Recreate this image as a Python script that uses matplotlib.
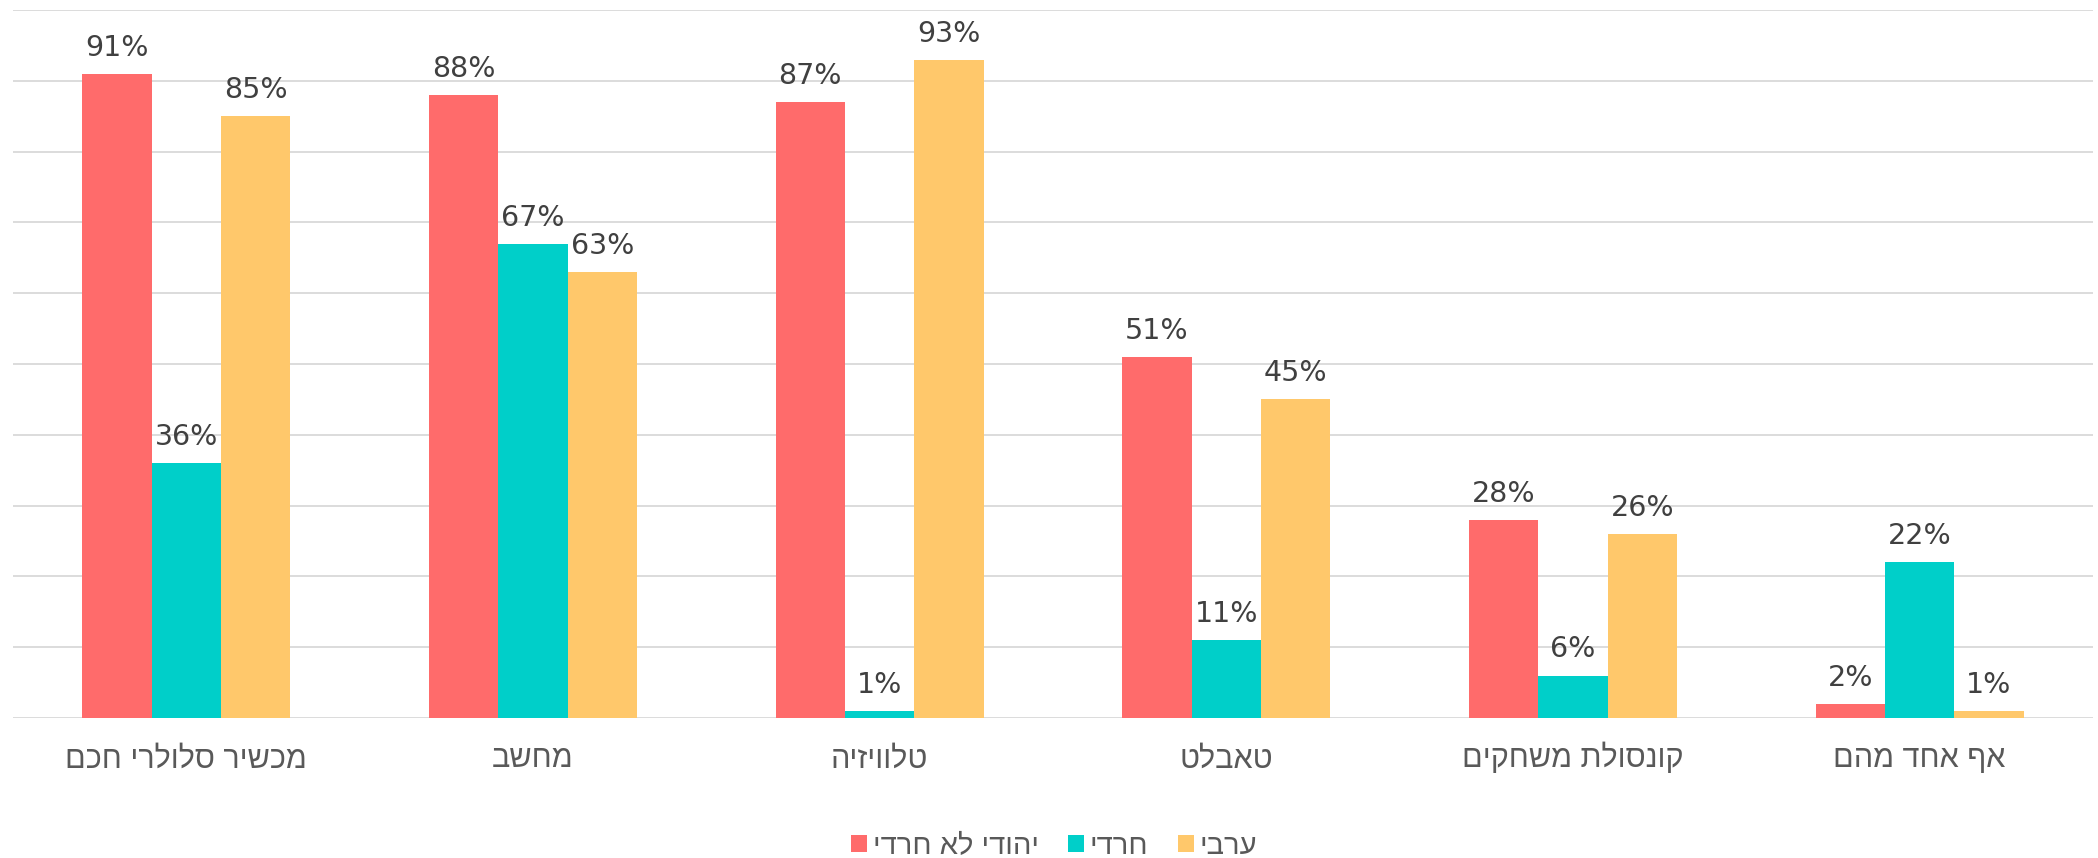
import matplotlib
matplotlib.use("Agg")
import matplotlib.pyplot as plt
from matplotlib.patches import Patch
import numpy as np

categories = ['מכשיר סלולרי חכם', 'מחשב', 'טלוויזיה', 'טאבלט', 'קונסולת משחקים', 'אף אחד מהם']
series_names = ['יהודי לא חרדי', 'חרדי', 'ערבי']
jewish_non_haredi = [91, 88, 87, 51, 28, 2]
haredi = [36, 67, 1, 11, 6, 22]
arab = [85, 63, 93, 45, 26, 1]
colors = ['#FF6B6B', '#00CFC9', '#FFC86B']

HEB = ['Liberation Sans', 'DejaVu Sans']


def vis(s):
    # matplotlib has no bidi support: reverse Hebrew to visual order
    return s[::-1]


W, H = 2098, 858
fig = plt.figure(figsize=(W / 100, H / 100), dpi=100)
ax = fig.add_axes([13 / W, 1 - 718 / H, (2093 - 13) / W, (718 - 10) / H])

x = np.arange(len(categories))
bw = 0.2
series = [jewish_non_haredi, haredi, arab]
for k, (vals, c) in enumerate(zip(series, colors)):
    pos = x + (k - 1) * bw
    ax.bar(pos, vals, width=bw, color=c, zorder=3, linewidth=0)
    for px, v in zip(pos, vals):
        ax.annotate(f'{v}%', xy=(px, v), xytext=(0, 13), textcoords='offset points',
                    ha='center', va='baseline', fontsize=20.5, color='#404040',
                    family='DejaVu Sans', zorder=4)

ax.set_xlim(-0.5, len(categories) - 0.5)
ax.set_ylim(0, 100)
ax.set_yticks(np.arange(0, 101, 10))
ax.set_yticklabels([])
ax.set_xticks([])
ax.tick_params(length=0)
ax.yaxis.grid(True, color='#D9D9D9', linewidth=1.3, zorder=0)
ax.set_axisbelow(True)
for s in ax.spines.values():
    s.set_visible(False)

for i, cat in enumerate(categories):
    ax.annotate(vis(cat), xy=(i, 0), xycoords=('data', 'axes fraction'),
                xytext=(0, -35.5), textcoords='offset points',
                ha='center', va='baseline', fontsize=22, color='#595959',
                family=HEB)

handles = [Patch(facecolor=c, edgecolor='none') for c in colors]
leg = fig.legend(handles, [vis(n) for n in series_names], loc='center',
                 bbox_to_anchor=(1054 / W, 1 - 846 / H), ncol=3, frameon=False,
                 prop={'family': HEB, 'size': 21}, handlelength=0.55, handleheight=0.55,
                 handletextpad=0.2, columnspacing=1.0, borderpad=0)
for t in leg.get_texts():
    t.set_color('#595959')

fig.savefig('out.png', dpi=100, facecolor='white')
